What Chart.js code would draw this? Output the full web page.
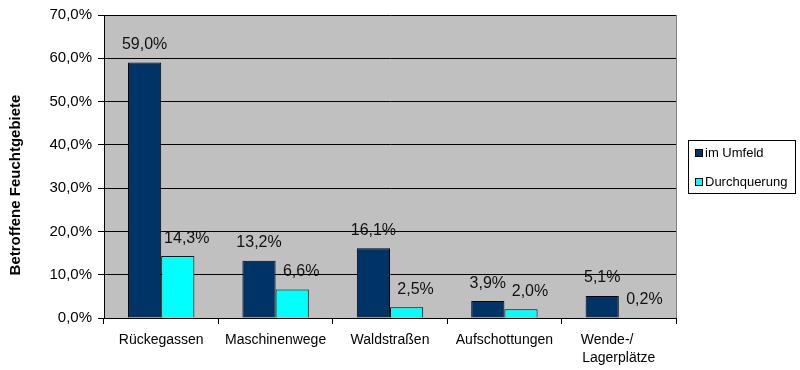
<!DOCTYPE html>
<html>
<head>
<meta charset="utf-8">
<script src="https://cdn.jsdelivr.net/npm/chart.js@4"></script>
<style>
  html, body { margin: 0; padding: 0; background: #fff; }
  #wrap { width: 800px; height: 370px; }
</style>
</head>
<body>
<div id="wrap"><canvas id="chart" width="800" height="370"></canvas></div>
<script>
// chart data
var categories = ['Rückegassen', 'Maschinenwege', 'Waldstraßen', 'Aufschottungen', ['Wende-/      ', 'Lagerplätze']];
var umfeld = [59.0, 13.2, 16.1, 3.9, 5.1];
var durchquerung = [14.3, 6.6, 2.5, 2.0, 0.2];
var seriesNames = ['im Umfeld', 'Durchquerung'];
var yTicks = [0, 10, 20, 30, 40, 50, 60, 70];
var yTitle = 'Betroffene Feuchtgebiete';

var FONT = '"Liberation Sans", Arial, sans-serif';

function pct(v) {
    return v.toFixed(1).replace('.', ',') + '%';
}

// gray plot background + right border
var plotBg = {
    id: 'plotBg',
    beforeDraw: function(chart) {
        var a = chart.chartArea, ctx = chart.ctx;
        ctx.save();
        ctx.fillStyle = '#c0c0c0';
        ctx.fillRect(a.left, a.top, a.right - a.left, a.bottom - a.top);
        ctx.restore();
    },
    afterDraw: function(chart) {
        var a = chart.chartArea, ctx = chart.ctx;
        ctx.save();
        ctx.strokeStyle = '#808080';
        ctx.lineWidth = 1;
        ctx.beginPath();
        ctx.moveTo(a.right + 0.5, a.top);
        ctx.lineTo(a.right + 0.5, a.bottom);
        ctx.stroke();
        // y axis title, centred on the whole chart height like Excel does
        ctx.translate(16, chart.height / 2);
        ctx.rotate(-Math.PI / 2);
        ctx.font = 'bold 15px ' + FONT;
        ctx.fillStyle = '#000';
        ctx.textAlign = 'center';
        ctx.textBaseline = 'middle';
        ctx.fillText(yTitle, 0, 0);
        ctx.restore();
    }
};

// value labels above the bars
var valueLabels = {
    id: 'valueLabels',
    afterDatasetsDraw: function(chart) {
        var ctx = chart.ctx;
        ctx.save();
        ctx.font = '16px ' + FONT;
        ctx.fillStyle = '#111';
        ctx.textAlign = 'center';
        ctx.textBaseline = 'middle';
        chart.data.datasets.forEach(function(ds, i) {
            var meta = chart.getDatasetMeta(i);
            var dx = i === 0 ? 0 : 9;
            meta.data.forEach(function(bar, j) {
                ctx.fillText(pct(ds.data[j]), bar.x + dx, bar.y - 18);
            });
        });
        ctx.restore();
    }
};

// boxed legend on the right
var boxLegend = {
    id: 'boxLegend',
    afterDraw: function(chart) {
        var ctx = chart.ctx;
        var x = chart.chartArea.right + 12, y = 140, w = 107, h = 53;
        ctx.save();
        ctx.strokeStyle = '#000';
        ctx.lineWidth = 1;
        ctx.strokeRect(x + 0.5, y + 0.5, w, h);
        ctx.font = '13px ' + FONT;
        ctx.textBaseline = 'middle';
        chart.data.datasets.forEach(function(ds, i) {
            var cy = y + 13 + i * 29;
            ctx.fillStyle = ds.backgroundColor;
            ctx.fillRect(x + 7.5, cy - 3.5, 7, 7);
            ctx.strokeRect(x + 7.5, cy - 3.5, 7, 7);
            ctx.fillStyle = '#000';
            ctx.fillText(ds.label, x + 17, cy);
        });
        ctx.restore();
    }
};

var ctx = document.getElementById('chart').getContext('2d');
var chart = new Chart(ctx, {
    type: 'bar',
    data: {
        labels: categories,
        datasets: [{
            label: seriesNames[0],
            data: umfeld,
            backgroundColor: '#003366',
            borderColor: '#000',
            borderWidth: 1
        }, {
            label: seriesNames[1],
            data: durchquerung,
            backgroundColor: '#00ffff',
            borderColor: '#000',
            borderWidth: 1
        }]
    },
    plugins: [plotBg, valueLabels, boxLegend],
    options: {
        responsive: false,
        animation: false,
        categoryPercentage: 0.58,
        barPercentage: 1,
        layout: {
            padding: { top: 14, right: 124, bottom: 0, left: 0 }
        },
        plugins: {
            legend: { display: false },
            tooltip: { enabled: false }
        },
        scales: {
            x: {
                afterFit: function(scale) { scale.height = 52; },
                grid: {
                    offset: true,
                    drawOnChartArea: false,
                    drawTicks: true,
                    tickLength: 6,
                    color: '#000'
                },
                border: { color: '#000', width: 1 },
                ticks: {
                    color: '#000',
                    padding: 7,
                    maxRotation: 0,
                    font: { family: FONT, size: 14, lineHeight: 1.3 }
                }
            },
            y: {
                min: 0,
                max: 70,
                afterFit: function(scale) { scale.width = 104; },
                afterBuildTicks: function(scale) {
                    scale.ticks = yTicks.map(function(v) { return { value: v }; });
                },
                grid: {
                    color: '#000',
                    lineWidth: 1,
                    tickLength: 6
                },
                border: { color: '#000', width: 1 },
                ticks: {
                    color: '#000',
                    padding: 6,
                    font: { family: FONT, size: 15 },
                    callback: function(v) { return pct(v); }
                }
            }
        }
    }
});
</script>
</body>
</html>
